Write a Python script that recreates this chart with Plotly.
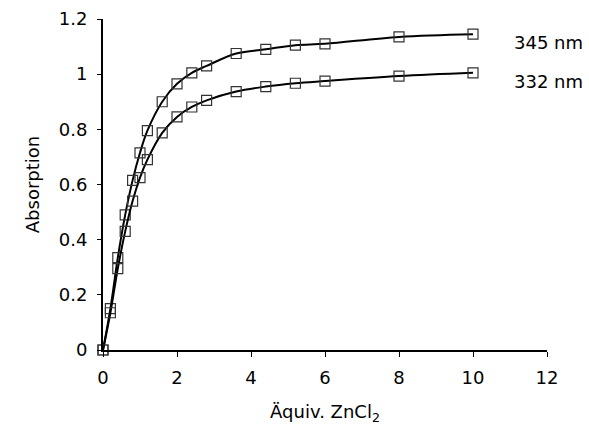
import plotly.graph_objects as go

equiv = [0, 0.2, 0.4, 0.6, 0.8, 1.0, 1.2, 1.6, 2.0, 2.4, 2.8, 3.6, 4.4, 5.2, 6.0, 8.0, 10.0]
abs_345 = [0.0, 0.15, 0.335, 0.49, 0.615, 0.715, 0.795, 0.90, 0.965, 1.005, 1.03, 1.075,
           1.09, 1.105, 1.11, 1.135, 1.145]
abs_332 = [0.0, 0.135, 0.295, 0.43, 0.54, 0.625, 0.69, 0.787, 0.845, 0.881, 0.905, 0.937,
           0.955, 0.967, 0.975, 0.993, 1.005]
series_labels = ["345 nm", "332 nm"]
x_ticks = [0, 2, 4, 6, 8, 10, 12]
y_ticks = [0, 0.2, 0.4, 0.6, 0.8, 1.0, 1.2]
y_ticktext = ["0", "0.2", "0.4", "0.6", "0.8", "1", "1.2"]

FONT = "DejaVu Sans, Arial, sans-serif"

fig = go.Figure()
for ys, name in [(abs_345, series_labels[0]), (abs_332, series_labels[1])]:
    fig.add_trace(go.Scatter(
        x=equiv, y=ys, name=name, mode="lines+markers",
        line=dict(color="black", width=2, shape="spline", smoothing=1.0),
        marker=dict(symbol="square-open", size=10, color="#333333", line=dict(width=1.2)),
        cliponaxis=False,
    ))
    fig.add_annotation(x=11.05, y=ys[-1] - 0.031, text=name, showarrow=False,
                       xanchor="left", yanchor="middle",
                       font=dict(family=FONT, size=18, color="black"))

fig.update_layout(
    width=589, height=425,
    margin=dict(l=103, r=42, t=19, b=75),
    paper_bgcolor="white", plot_bgcolor="white",
    showlegend=False,
    font=dict(family=FONT, size=18, color="black"),
)
fig.update_xaxes(
    range=[0, 12], tickvals=x_ticks, showgrid=False, zeroline=False, automargin=False,
    showline=True, linecolor="black", linewidth=2,
    ticks="outside", ticklen=5, tickcolor="black", ticklabelstandoff=5,
    title=dict(text="Äquiv. ZnCl<sub>2</sub>", standoff=20, font=dict(size=18)),
)
fig.update_yaxes(
    range=[0, 1.2], tickvals=y_ticks, ticktext=y_ticktext, showgrid=False, zeroline=False,
    automargin=False,
    showline=True, linecolor="black", linewidth=2,
    ticks="outside", ticklen=4, tickcolor="black", ticklabelstandoff=6,
    title=dict(text="Absorption", standoff=14, font=dict(size=18)),
)

# remove the default page margin so the figure fills the window exactly
fig.write_html(
    "out.html",
    config={"displayModeBar": False},
    post_script="document.body.style.margin='0';document.body.style.overflow='hidden';",
)
